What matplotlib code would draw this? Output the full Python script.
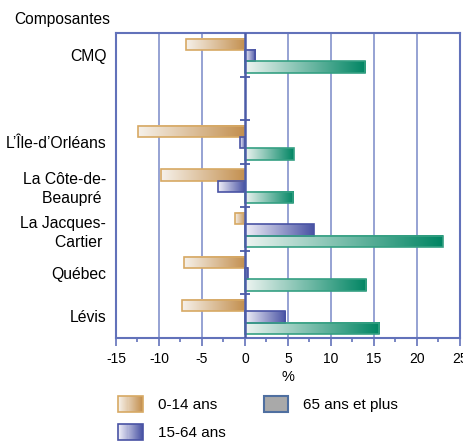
import numpy as np
import matplotlib.pyplot as plt
from matplotlib.colors import LinearSegmentedColormap
from matplotlib.patches import Rectangle, Patch
from matplotlib.legend_handler import HandlerBase

# police proche d'Helvetica
plt.rcParams['font.family'] = ['Liberation Sans', 'DejaVu Sans']
plt.rcParams['axes.unicode_minus'] = False

# Composantes (la 2e rangée est vide, elle sépare la CMQ des autres)
composantes = ['CMQ', '', 'L’Île-d’Orléans', 'La Côte-de-\nBeaupré ',
               'La Jacques-\nCartier ', 'Québec', 'Lévis']

# Variation (%) par groupe d'âge
age_0_14 = [-6.9, np.nan, -12.4, -9.8, -1.2, -7.1, -7.3]
age_15_64 = [1.2, np.nan, -0.6, -3.1, 8.0, 0.3, 4.7]
age_65_plus = [14.0, np.nan, 5.7, 5.6, 23.0, 14.1, 15.6]

groupes = ['0-14 ans', '15-64 ans', '65 ans et plus']
series = [age_0_14, age_15_64, age_65_plus]

# dégradés : clair à gauche, foncé à droite
degrades = [
    ('#f6f1ea', '#c38f4e', '#d7a964'),
    ('#f0eff8', '#4953a4', '#4953a4'),
    ('#eef4f1', '#008563', '#35a083'),
]
cmaps = [LinearSegmentedColormap.from_list(g, [c0, c1]) for g, (c0, c1, _) in zip(groupes, degrades)]

bleu = '#6272ba'

fig = plt.figure(figsize=(4.64, 4.46), dpi=100)
ax = fig.add_axes([0.25, 0.242, 0.741, 0.684])

y = np.arange(len(composantes)) + 0.5
h = 0.26
offsets = [-0.26, 0.0, 0.26]
grad = np.linspace(0, 1, 256).reshape(1, -1)

for vals, off, cmap, (_, _, edge) in zip(series, offsets, cmaps, degrades):
    bars = ax.barh(y + off + 0.02, vals, height=h, facecolor='none',
                   edgecolor=edge, linewidth=1.2, zorder=4)
    for b in bars:
        if np.isnan(b.get_width()):
            continue
        x0, x1 = sorted([b.get_x(), b.get_x() + b.get_width()])
        y0, y1 = b.get_y(), b.get_y() + b.get_height()
        ax.imshow(grad, cmap=cmap, extent=(x0, x1, y1, y0), aspect='auto',
                  interpolation='bicubic', zorder=3)

# quadrillage vertical et axe du zéro
for xv in [-10, -5, 5, 10, 15, 20]:
    ax.axvline(xv, color='#8d9bd0', lw=1.3, zorder=1)
ax.axvline(0, color='#4c5ca8', lw=1.8, zorder=5)
ax.hlines(np.arange(1, len(composantes)), -0.55, 0.55, color='#4c5ca8', lw=1.3, zorder=5)

ax.set_xlim(-15, 25)
ax.set_ylim(len(composantes), 0)
ax.set_xticks(np.arange(-15, 26, 5))
ax.set_xticks(np.arange(-15, 26, 2.5), minor=True)
ax.set_yticks(y)
ax.set_yticklabels(composantes, fontsize=11.3, linespacing=1.35)
ax.tick_params(axis='y', length=0, pad=7)
ax.tick_params(axis='x', which='major', length=6, width=1.2, color=bleu,
               labelsize=10, pad=4)
ax.tick_params(axis='x', which='minor', length=3, width=1.2, color=bleu)
for s in ax.spines.values():
    s.set_color(bleu)
    s.set_linewidth(1.5)

ax.set_xlabel('%', fontsize=10.5, labelpad=3)
fig.text(0.03, 0.957, 'Composantes', fontsize=11.2, va='center')


class HandlerDegrade(HandlerBase):
    def __init__(self, cmap, edge):
        super().__init__()
        self.cmap = cmap
        self.edge = edge

    def create_artists(self, legend, orig_handle, xdescent, ydescent, width, height, fontsize, trans):
        arts = []
        n = 24
        for i in range(n):
            r = Rectangle((-xdescent + width * i / n, -ydescent), width / n + 0.3, height,
                          facecolor=self.cmap(i / (n - 1)), edgecolor='none', transform=trans)
            arts.append(r)
        arts.append(Rectangle((-xdescent, -ydescent), width, height, facecolor='none',
                              edgecolor=self.edge, lw=1.2, transform=trans))
        return arts


h0 = Patch(label=groupes[0])
h1 = Patch(label=groupes[1])
h2 = Patch(facecolor='#a9a9a9', edgecolor='#4f6fa0', lw=1.5, label=groupes[2])
fig.legend(handles=[h0, h1, h2], ncol=2, loc='upper left', bbox_to_anchor=(0.225, 0.144),
           frameon=False, fontsize=11, handlelength=1.63, handleheight=1.3,
           handletextpad=0.95, columnspacing=2.5, labelspacing=0.75,
           handler_map={h0: HandlerDegrade(cmaps[0], degrades[0][2]),
                        h1: HandlerDegrade(cmaps[1], degrades[1][2])})

fig.savefig('out.png', dpi=100)
